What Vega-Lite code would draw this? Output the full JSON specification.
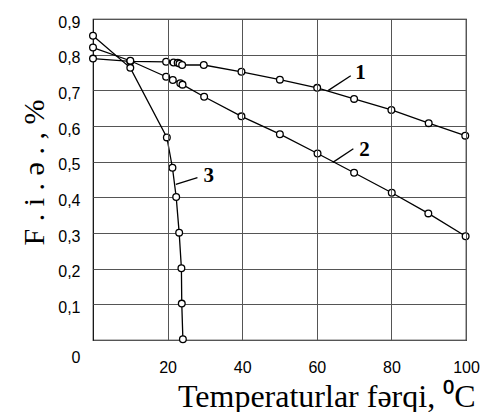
{
  "$schema": "https://vega.github.io/schema/vega-lite/v6.json",
  "width": 373,
  "height": 321,
  "autosize": "none",
  "padding": {"left": 93, "top": 19, "right": 16, "bottom": 72},
  "background": "white",
  "config": {
    "view": {"stroke": "black", "strokeWidth": 1.2},
    "axis": {
      "labelFont": "Liberation Sans",
      "labelFontSize": 16,
      "labelColor": "black",
      "labelOverlap": false,
      "titleFont": "Liberation Serif",
      "titleFontWeight": "normal",
      "titleColor": "black",
      "domain": false,
      "ticks": false,
      "gridColor": "#555555",
      "gridWidth": 1,
      "gridOpacity": 1
    }
  },
  "datasets": {
    "curves": [
      {"series": "1", "i": 1, "t": 0, "v": 0.789},
      {"series": "1", "i": 2, "t": 10, "v": 0.781},
      {"series": "1", "i": 3, "t": 19.6, "v": 0.78},
      {"series": "1", "i": 4, "t": 21.6, "v": 0.778},
      {"series": "1", "i": 5, "t": 22.7, "v": 0.777},
      {"series": "1", "i": 6, "t": 23.2, "v": 0.775},
      {"series": "1", "i": 7, "t": 23.9, "v": 0.771},
      {"series": "1", "i": 8, "t": 29.7, "v": 0.771},
      {"series": "1", "i": 9, "t": 39.8, "v": 0.752},
      {"series": "1", "i": 10, "t": 50.1, "v": 0.73},
      {"series": "1", "i": 11, "t": 60.1, "v": 0.707},
      {"series": "1", "i": 12, "t": 70, "v": 0.676},
      {"series": "1", "i": 13, "t": 80, "v": 0.645},
      {"series": "1", "i": 14, "t": 90, "v": 0.608},
      {"series": "1", "i": 15, "t": 99.8, "v": 0.573},
      {"series": "2", "i": 1, "t": 0, "v": 0.82},
      {"series": "2", "i": 2, "t": 10, "v": 0.783},
      {"series": "2", "i": 3, "t": 19.6, "v": 0.738},
      {"series": "2", "i": 4, "t": 21.4, "v": 0.729},
      {"series": "2", "i": 5, "t": 23.4, "v": 0.72},
      {"series": "2", "i": 6, "t": 24, "v": 0.716},
      {"series": "2", "i": 7, "t": 29.8, "v": 0.682},
      {"series": "2", "i": 8, "t": 39.8, "v": 0.627},
      {"series": "2", "i": 9, "t": 50.1, "v": 0.577},
      {"series": "2", "i": 10, "t": 60.2, "v": 0.523},
      {"series": "2", "i": 11, "t": 70, "v": 0.469},
      {"series": "2", "i": 12, "t": 80.1, "v": 0.413},
      {"series": "2", "i": 13, "t": 89.9, "v": 0.355},
      {"series": "2", "i": 14, "t": 99.9, "v": 0.291},
      {"series": "3", "i": 1, "t": 0, "v": 0.853},
      {"series": "3", "i": 2, "t": 10, "v": 0.763},
      {"series": "3", "i": 3, "t": 19.8, "v": 0.568},
      {"series": "3", "i": 4, "t": 21.3, "v": 0.483},
      {"series": "3", "i": 5, "t": 22.3, "v": 0.401},
      {"series": "3", "i": 6, "t": 23.1, "v": 0.301},
      {"series": "3", "i": 7, "t": 23.7, "v": 0.201},
      {"series": "3", "i": 8, "t": 23.8, "v": 0.102},
      {"series": "3", "i": 9, "t": 24.1, "v": 0.002}
    ],
    "leaders": [
      {"label": "1", "t": 63.1, "v": 0.7, "t2": 69.1, "v2": 0.741},
      {"label": "2", "t": 64.3, "v": 0.498, "t2": 69.8, "v2": 0.536},
      {"label": "3", "t": 22.2, "v": 0.436, "t2": 28.0, "v2": 0.455}
    ],
    "labels": [
      {"label": "1", "t": 71.7, "v": 0.75},
      {"label": "2", "t": 72.8, "v": 0.532},
      {"label": "3", "t": 31, "v": 0.459}
    ]
  },
  "encoding": {
    "x": {
      "field": "t", "type": "quantitative",
      "scale": {"domain": [0, 100], "nice": false, "zero": false},
      "axis": {
        "values": [20, 40, 60, 80, 100],
        "grid": true,
        "zindex": 1,
        "labelOverlap": false,
        "labelFlush": false,
        "labelPadding": 19,
        "title": "Temperaturlar fərqi, ⁰C",
        "titleFontSize": 32,
        "titleAnchor": "end",
        "titleAlign": "right",
        "titleX": 382,
        "titleY": 66,
        "titleBaseline": "alphabetic"
      }
    },
    "y": {
      "field": "v", "type": "quantitative",
      "scale": {"domain": [0, 0.9], "nice": false},
      "axis": {
        "values": [0, 0.1, 0.2, 0.3, 0.4, 0.5, 0.6, 0.7, 0.8, 0.9],
        "grid": true,
        "labelOverlap": false,
        "labelBound": false,
        "labelPadding": 13,
        "labelExpr": "datum.value == 0 ? '0' : replace(format(datum.value, '.1f'), '.', ',')",
        "labelOffset": {"condition": {"test": "datum.value == 0", "value": 17}, "value": 3},
        "title": "F . i . ə . , %",
        "titleFontSize": 30,
        "titleY": 153,
        "titlePadding": 8
      }
    }
  },
  "layer": [
    {
      "data": {"name": "curves"},
      "mark": {"type": "line", "color": "black", "strokeWidth": 1.3},
      "encoding": {
        "detail": {"field": "series"},
        "order": {"field": "i"}
      }
    },
    {
      "data": {"name": "curves"},
      "mark": {"type": "point", "shape": "circle", "filled": true, "fill": "white", "stroke": "black", "strokeWidth": 1.3, "size": 45, "opacity": 1},
      "encoding": {}
    },
    {
      "data": {"name": "leaders"},
      "mark": {"type": "rule", "color": "black", "strokeWidth": 1.3},
      "encoding": {
        "x2": {"field": "t2"},
        "y2": {"field": "v2"}
      }
    },
    {
      "data": {"name": "labels"},
      "mark": {"type": "text", "font": "Liberation Serif", "fontSize": 21, "fontWeight": "bold", "color": "black", "align": "center", "baseline": "middle"},
      "encoding": {
        "text": {"field": "label"}
      }
    }
  ]
}
